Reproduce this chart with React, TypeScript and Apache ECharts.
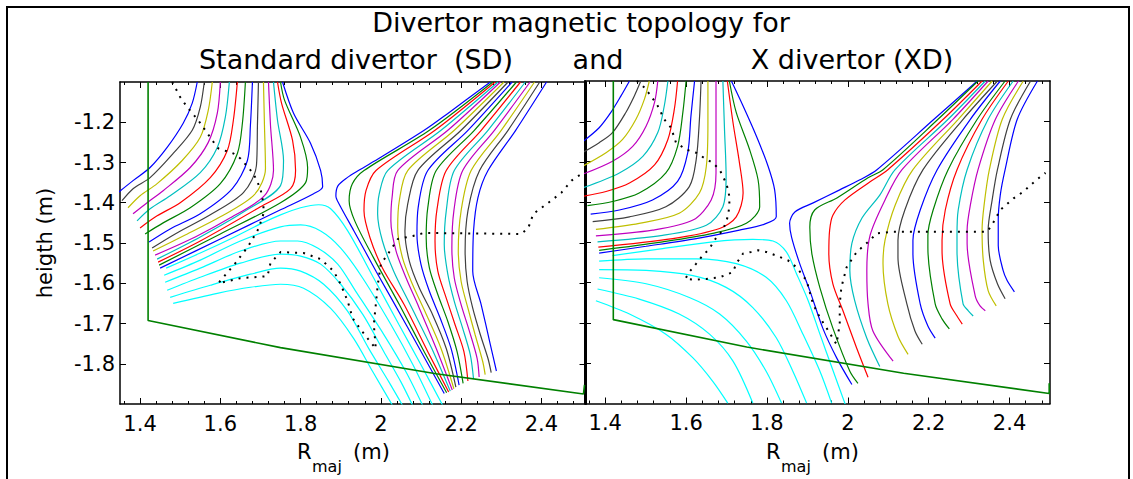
import React, { useEffect, useRef } from "react";
import * as echarts from "echarts";

const FONT = "'DejaVu Sans', sans-serif";
const contourColors = ["#0000ff", "#008000", "#ff0000", "#00bfbf", "#bf00bf", "#bfbf00", "#404040"];
const privateColor = "#00ffff";
const wallColor = "#008000";

const xMajorTicks = [1.4, 1.6, 1.8, 2.0, 2.2, 2.4];
const xMinorTicks = [1.36, 1.44, 1.48, 1.52, 1.56, 1.64, 1.68, 1.72, 1.76, 1.84, 1.88, 1.92, 1.96, 2.04, 2.08, 2.12, 2.16, 2.24, 2.28, 2.32, 2.36, 2.44, 2.48];
const yMajorTicks = [-1.8, -1.7, -1.6, -1.5, -1.4, -1.3, -1.2];

// ---------- Standard divertor (SD) ----------
// inner-leg SOL flux surfaces, index 0 = separatrix
const sdInnerSol = [
  [[1.755, -1.1], [1.7825, -1.1775], [1.825, -1.2525], [1.85, -1.32], [1.855, -1.36], [1.8325, -1.3775], [1.75, -1.4175], [1.6, -1.49], [1.45, -1.5625]],
  [[1.75, -1.1], [1.76, -1.145], [1.8, -1.2375], [1.8175, -1.3125], [1.8125, -1.35], [1.75, -1.4], [1.6, -1.4775], [1.4475, -1.555]],
  [[1.7425, -1.1], [1.7525, -1.1525], [1.78, -1.245], [1.7875, -1.32], [1.775, -1.365], [1.7, -1.41], [1.55, -1.495], [1.445, -1.5475]],
  [[1.7325, -1.1], [1.7425, -1.195], [1.7575, -1.295], [1.75, -1.3575], [1.6625, -1.42], [1.55, -1.485], [1.4425, -1.54]],
  [[1.72, -1.1], [1.725, -1.2075], [1.7325, -1.32], [1.71, -1.3825], [1.625, -1.4375], [1.5375, -1.485], [1.4375, -1.53]],
  [[1.7075, -1.1], [1.71, -1.2075], [1.7125, -1.315], [1.685, -1.38], [1.6, -1.435], [1.5125, -1.48], [1.4325, -1.52]],
  [[1.695, -1.1], [1.6925, -1.2075], [1.69, -1.3075], [1.6575, -1.375], [1.575, -1.43], [1.4875, -1.4775], [1.43, -1.5125]],
  [[1.68, -1.1], [1.675, -1.2075], [1.6675, -1.295], [1.63, -1.365], [1.55, -1.4275], [1.475, -1.465], [1.4225, -1.4975]],
  [[1.6625, -1.1], [1.655, -1.2025], [1.6425, -1.2775], [1.6, -1.3525], [1.525, -1.4125], [1.4575, -1.45], [1.4125, -1.4775]],
  [[1.6425, -1.1], [1.6325, -1.195], [1.6175, -1.27], [1.575, -1.3375], [1.5, -1.4], [1.4425, -1.4325], [1.4, -1.4625]],
  [[1.6225, -1.1], [1.6125, -1.1875], [1.5925, -1.2625], [1.55, -1.325], [1.475, -1.3825], [1.425, -1.415], [1.3925, -1.445]],
  [[1.6, -1.1], [1.5925, -1.1775], [1.57, -1.25], [1.525, -1.3125], [1.4575, -1.37], [1.4175, -1.4], [1.3825, -1.4275]],
  [[1.58, -1.1], [1.57, -1.17], [1.55, -1.2375], [1.505, -1.295], [1.4425, -1.3525], [1.4, -1.3825], [1.37, -1.4125]],
  [[1.56, -1.1], [1.55, -1.1625], [1.53, -1.22], [1.4825, -1.2775], [1.425, -1.3375], [1.3825, -1.365], [1.355, -1.395]],
  [[1.5425, -1.1], [1.53, -1.1525], [1.5075, -1.2025], [1.4675, -1.2625], [1.425, -1.3125], [1.3825, -1.345], [1.345, -1.375]],
];

// outer-leg SOL flux surfaces, index 0 = separatrix
const sdOuterSol = [
  [[2.273, -1.1], [2.167, -1.178], [2.108, -1.22], [2.0, -1.287], [1.944, -1.32], [1.917, -1.337], [1.893, -1.358], [1.888, -1.383], [1.896, -1.403], [1.933, -1.47], [1.988, -1.57], [2.035, -1.653], [2.096, -1.762], [2.158, -1.874]],
  [[2.279, -1.1], [2.121, -1.22], [1.958, -1.32], [1.929, -1.353], [1.921, -1.395], [1.935, -1.445], [1.982, -1.537], [2.046, -1.653], [2.108, -1.77], [2.164, -1.872]],
  [[2.285, -1.1], [2.135, -1.22], [1.988, -1.32], [1.963, -1.37], [1.958, -1.42], [1.973, -1.487], [2.004, -1.562], [2.058, -1.653], [2.117, -1.77], [2.169, -1.87]],
  [[2.292, -1.1], [2.15, -1.22], [2.017, -1.32], [1.996, -1.378], [1.992, -1.428], [2.004, -1.495], [2.032, -1.57], [2.073, -1.653], [2.127, -1.762], [2.173, -1.868]],
  [[2.298, -1.1], [2.167, -1.22], [2.042, -1.32], [2.028, -1.387], [2.025, -1.445], [2.038, -1.52], [2.063, -1.587], [2.092, -1.653], [2.138, -1.762], [2.178, -1.865]],
  [[2.307, -1.1], [2.183, -1.22], [2.067, -1.32], [2.046, -1.395], [2.042, -1.462], [2.054, -1.537], [2.079, -1.603], [2.11, -1.67], [2.15, -1.762], [2.182, -1.862]],
  [[2.317, -1.1], [2.2, -1.22], [2.092, -1.32], [2.067, -1.403], [2.06, -1.47], [2.071, -1.545], [2.096, -1.612], [2.129, -1.678], [2.163, -1.762], [2.187, -1.858]],
  [[2.327, -1.1], [2.217, -1.22], [2.117, -1.32], [2.093, -1.412], [2.09, -1.478], [2.1, -1.553], [2.121, -1.62], [2.148, -1.687], [2.175, -1.762], [2.195, -1.853]],
  [[2.338, -1.1], [2.233, -1.22], [2.138, -1.32], [2.117, -1.412], [2.113, -1.487], [2.121, -1.562], [2.142, -1.628], [2.167, -1.695], [2.19, -1.77], [2.205, -1.849]],
  [[2.348, -1.1], [2.25, -1.22], [2.163, -1.32], [2.14, -1.416], [2.135, -1.495], [2.142, -1.57], [2.163, -1.637], [2.185, -1.703], [2.207, -1.77], [2.217, -1.843]],
  [[2.36, -1.1], [2.267, -1.22], [2.183, -1.32], [2.163, -1.42], [2.158, -1.503], [2.167, -1.578], [2.183, -1.645], [2.204, -1.712], [2.223, -1.778], [2.231, -1.838]],
  [[2.372, -1.1], [2.283, -1.22], [2.204, -1.32], [2.182, -1.42], [2.177, -1.512], [2.183, -1.587], [2.2, -1.653], [2.221, -1.72], [2.24, -1.787], [2.245, -1.833]],
  [[2.383, -1.1], [2.3, -1.22], [2.225, -1.32], [2.2, -1.42], [2.193, -1.52], [2.2, -1.595], [2.217, -1.662], [2.235, -1.728], [2.254, -1.795], [2.26, -1.827]],
  [[2.396, -1.1], [2.317, -1.22], [2.246, -1.32], [2.217, -1.42], [2.21, -1.52], [2.215, -1.595], [2.229, -1.662], [2.248, -1.728], [2.267, -1.787], [2.275, -1.822]],
  [[2.413, -1.1], [2.336, -1.22], [2.267, -1.32], [2.242, -1.387], [2.231, -1.47], [2.229, -1.57], [2.25, -1.653], [2.273, -1.753], [2.288, -1.818]],
];

// private flux region surfaces
const sdPrivate = [
  [[1.465, -1.5625], [1.55, -1.525], [1.625, -1.49], [1.7, -1.4525], [1.75, -1.43], [1.8, -1.4125], [1.845, -1.405], [1.875, -1.415], [1.9175, -1.47], [1.9825, -1.5875], [2.045, -1.7025], [2.1, -1.8025], [2.155, -1.905]],
  [[1.46, -1.58], [1.55, -1.5425], [1.65, -1.495], [1.75, -1.46], [1.8, -1.455], [1.85, -1.47], [1.9, -1.5125], [1.955, -1.5875], [2.025, -1.7025], [2.08, -1.8025], [2.13, -1.905]],
  [[1.4625, -1.5975], [1.55, -1.5625], [1.65, -1.52], [1.75, -1.495], [1.7925, -1.495], [1.8425, -1.5125], [1.8925, -1.5525], [1.9375, -1.62], [2.0075, -1.7275], [2.0625, -1.82], [2.105, -1.905]],
  [[1.4675, -1.6175], [1.55, -1.585], [1.65, -1.55], [1.75, -1.5275], [1.8, -1.5325], [1.85, -1.5525], [1.9, -1.6025], [1.955, -1.6775], [2.0075, -1.77], [2.05, -1.845], [2.08, -1.905]],
  [[1.475, -1.635], [1.575, -1.605], [1.675, -1.5775], [1.75, -1.5625], [1.8, -1.57], [1.8575, -1.6025], [1.9175, -1.67], [1.97, -1.7625], [2.02, -1.845], [2.055, -1.905]],
  [[1.4825, -1.65], [1.5925, -1.625], [1.675, -1.61], [1.75, -1.6025], [1.8075, -1.6125], [1.875, -1.6625], [1.9325, -1.7375], [1.98, -1.82], [2.03, -1.905]],
];

const sdWall = [[1.42, -1.1], [1.42, -1.6925], [1.75, -1.76], [2.1375, -1.825], [2.505, -1.875], [2.5075, -1.8525]];

const sdDotted = [
  [1.48, -1.1], [1.5, -1.1375], [1.5175, -1.1625], [1.545, -1.195], [1.58, -1.245], [1.595, -1.265], [1.6325, -1.2775], [1.65, -1.29],
  [1.6825, -1.3275], [1.7, -1.365], [1.7075, -1.4025], [1.7075, -1.4275], [1.695, -1.465], [1.67, -1.5075], [1.6375, -1.55], [1.595, -1.6],
  [1.65, -1.5875], [1.7175, -1.5825], [1.725, -1.55], [1.75, -1.5225], [1.8075, -1.525], [1.85, -1.54], [1.8825, -1.57], [1.9, -1.6025],
  [1.9175, -1.645], [1.93, -1.6875], [1.95, -1.715], [1.9675, -1.7375], [1.9875, -1.7625], [1.9825, -1.7025], [1.9875, -1.6525], [1.9925, -1.6025],
  [2.0, -1.5525], [2.0175, -1.5275], [2.0425, -1.49], [2.08, -1.4825], [2.1075, -1.475], [2.35, -1.4775], [2.3675, -1.4625], [2.38, -1.4275],
  [2.4175, -1.4], [2.45, -1.375], [2.475, -1.345], [2.5125, -1.32],
];

// ---------- X divertor (XD) ----------
const xdInnerSol = [
  [[1.712, -1.1], [1.741, -1.162], [1.774, -1.237], [1.803, -1.312], [1.819, -1.37], [1.823, -1.437], [1.794, -1.455], [1.732, -1.47], [1.625, -1.491], [1.501, -1.51], [1.385, -1.527]],
  [[1.707, -1.1], [1.724, -1.178], [1.757, -1.27], [1.778, -1.345], [1.782, -1.412], [1.749, -1.453], [1.666, -1.478], [1.542, -1.499], [1.385, -1.52]],
  [[1.702, -1.1], [1.716, -1.203], [1.732, -1.303], [1.741, -1.378], [1.724, -1.437], [1.683, -1.466], [1.567, -1.491], [1.383, -1.512]],
  [[1.691, -1.1], [1.695, -1.22], [1.699, -1.337], [1.691, -1.412], [1.65, -1.458], [1.542, -1.483], [1.381, -1.499]],
  [[1.674, -1.1], [1.674, -1.212], [1.674, -1.328], [1.662, -1.395], [1.617, -1.445], [1.517, -1.47], [1.377, -1.484]],
  [[1.654, -1.1], [1.654, -1.203], [1.65, -1.312], [1.633, -1.378], [1.583, -1.428], [1.484, -1.453], [1.377, -1.468]],
  [[1.637, -1.1], [1.633, -1.195], [1.625, -1.295], [1.608, -1.362], [1.55, -1.412], [1.46, -1.437], [1.369, -1.449]],
  [[1.621, -1.1], [1.612, -1.187], [1.604, -1.278], [1.579, -1.349], [1.517, -1.395], [1.435, -1.42], [1.364, -1.43]],
  [[1.6, -1.1], [1.592, -1.178], [1.579, -1.262], [1.55, -1.328], [1.484, -1.378], [1.418, -1.399], [1.356, -1.409]],
  [[1.579, -1.1], [1.571, -1.17], [1.555, -1.245], [1.522, -1.308], [1.46, -1.353], [1.402, -1.374], [1.345, -1.386]],
  [[1.555, -1.1], [1.546, -1.162], [1.53, -1.228], [1.493, -1.287], [1.435, -1.328], [1.345, -1.365]],
  [[1.53, -1.1], [1.522, -1.153], [1.501, -1.212], [1.468, -1.262], [1.418, -1.299], [1.345, -1.331]],
  [[1.509, -1.1], [1.497, -1.145], [1.476, -1.195], [1.443, -1.245], [1.402, -1.278], [1.345, -1.311]],
  [[1.488, -1.1], [1.472, -1.137], [1.451, -1.178], [1.418, -1.228], [1.385, -1.253], [1.345, -1.277]],
  [[1.46, -1.1], [1.439, -1.137], [1.414, -1.178], [1.385, -1.216], [1.345, -1.25]],
];

const xdOuterSol = [
  [[2.32, -1.1], [2.213, -1.195], [2.072, -1.32], [2.03, -1.345], [1.98, -1.37], [1.913, -1.403], [1.869, -1.425], [1.856, -1.453], [1.861, -1.488], [1.881, -1.553], [1.906, -1.62], [1.938, -1.713], [1.973, -1.788], [2.01, -1.853]],
  [[2.322, -1.1], [2.223, -1.195], [2.087, -1.32], [2.05, -1.34], [1.973, -1.39], [1.918, -1.42], [1.906, -1.463], [1.911, -1.528], [1.931, -1.613], [1.963, -1.713], [2.005, -1.82], [2.025, -1.85]],
  [[2.332, -1.1], [2.236, -1.195], [2.099, -1.32], [2.055, -1.35], [1.993, -1.395], [1.963, -1.433], [1.955, -1.47], [1.953, -1.528], [1.963, -1.603], [1.988, -1.67], [2.022, -1.763], [2.05, -1.835]],
  [[2.34, -1.1], [2.248, -1.195], [2.117, -1.32], [2.079, -1.383], [2.035, -1.44], [2.01, -1.503], [2.005, -1.57], [2.017, -1.645], [2.047, -1.738], [2.079, -1.808]],
  [[2.347, -1.1], [2.26, -1.195], [2.134, -1.32], [2.092, -1.395], [2.055, -1.483], [2.047, -1.57], [2.05, -1.653], [2.062, -1.72], [2.112, -1.795]],
  [[2.357, -1.1], [2.273, -1.195], [2.161, -1.32], [2.117, -1.408], [2.092, -1.495], [2.087, -1.553], [2.099, -1.653], [2.124, -1.733], [2.149, -1.778]],
  [[2.37, -1.1], [2.285, -1.195], [2.186, -1.32], [2.141, -1.42], [2.124, -1.495], [2.124, -1.538], [2.146, -1.653], [2.166, -1.72], [2.184, -1.753]],
  [[2.377, -1.1], [2.303, -1.195], [2.221, -1.32], [2.179, -1.42], [2.161, -1.495], [2.161, -1.528], [2.179, -1.653], [2.198, -1.708], [2.216, -1.738]],
  [[2.389, -1.1], [2.32, -1.195], [2.248, -1.32], [2.211, -1.42], [2.198, -1.483], [2.198, -1.513], [2.216, -1.653], [2.233, -1.69], [2.251, -1.715]],
  [[2.397, -1.1], [2.332, -1.195], [2.27, -1.32], [2.241, -1.42], [2.233, -1.495], [2.233, -1.52], [2.253, -1.653], [2.27, -1.683], [2.283, -1.703]],
  [[2.409, -1.1], [2.347, -1.195], [2.295, -1.32], [2.273, -1.42], [2.27, -1.483], [2.27, -1.52], [2.285, -1.653], [2.298, -1.67], [2.31, -1.683]],
  [[2.422, -1.1], [2.365, -1.195], [2.322, -1.32], [2.303, -1.408], [2.295, -1.47], [2.295, -1.503], [2.315, -1.633], [2.327, -1.658], [2.34, -1.67]],
  [[2.434, -1.1], [2.382, -1.195], [2.35, -1.32], [2.337, -1.408], [2.332, -1.47], [2.335, -1.545], [2.347, -1.62], [2.367, -1.658]],
  [[2.452, -1.1], [2.402, -1.195], [2.37, -1.32], [2.357, -1.395], [2.347, -1.47], [2.352, -1.545], [2.37, -1.603], [2.389, -1.64]],
  [[2.469, -1.1], [2.419, -1.195], [2.389, -1.32], [2.377, -1.383], [2.372, -1.445], [2.372, -1.508], [2.384, -1.57], [2.394, -1.595], [2.412, -1.623]],
];

const xdPrivate = [
  [[1.418, -1.533], [1.542, -1.516], [1.666, -1.499], [1.765, -1.493], [1.815, -1.497], [1.848, -1.524], [1.873, -1.578], [1.902, -1.645], [1.931, -1.728], [1.964, -1.82], [1.994, -1.903]],
  [[1.385, -1.547], [1.501, -1.541], [1.625, -1.541], [1.724, -1.553], [1.798, -1.587], [1.848, -1.645], [1.889, -1.728], [1.931, -1.82], [1.96, -1.899]],
  [[1.385, -1.568], [1.501, -1.57], [1.617, -1.583], [1.699, -1.612], [1.765, -1.662], [1.823, -1.737], [1.864, -1.82], [1.898, -1.899]],
  [[1.385, -1.588], [1.501, -1.603], [1.608, -1.637], [1.683, -1.678], [1.749, -1.745], [1.798, -1.82], [1.836, -1.899]],
  [[1.381, -1.616], [1.484, -1.641], [1.583, -1.678], [1.658, -1.728], [1.716, -1.795], [1.765, -1.899]],
  [[1.377, -1.645], [1.46, -1.678], [1.55, -1.728], [1.617, -1.787], [1.666, -1.845], [1.703, -1.899]],
];

const xdWall = [[1.42, -1.1], [1.42, -1.692], [1.75, -1.76], [2.138, -1.825], [2.498, -1.875], [2.498, -1.85]];

const xdDotted = [
  [1.478, -1.1], [1.497, -1.116], [1.513, -1.137], [1.53, -1.162], [1.546, -1.195], [1.563, -1.216], [1.575, -1.253], [1.6, -1.27],
  [1.625, -1.278], [1.645, -1.291], [1.666, -1.303], [1.683, -1.32], [1.695, -1.345], [1.703, -1.366], [1.707, -1.387], [1.707, -1.412],
  [1.703, -1.437], [1.691, -1.47], [1.67, -1.495], [1.658, -1.516], [1.641, -1.533], [1.625, -1.553], [1.608, -1.574], [1.598, -1.591],
  [1.621, -1.593], [1.65, -1.591], [1.683, -1.587], [1.716, -1.574], [1.724, -1.553], [1.741, -1.528], [1.761, -1.524], [1.778, -1.52],
  [1.798, -1.524], [1.823, -1.533], [1.852, -1.545], [1.873, -1.562], [1.898, -1.595], [1.914, -1.653], [1.931, -1.687], [1.947, -1.712],
  [1.972, -1.753], [1.98, -1.703], [1.98, -1.653], [1.984, -1.612], [1.997, -1.562], [2.022, -1.524], [2.055, -1.495], [2.071, -1.478],
  [2.113, -1.474], [2.344, -1.474], [2.356, -1.458], [2.377, -1.42], [2.41, -1.391], [2.435, -1.374], [2.452, -1.358], [2.472, -1.341], [2.489, -1.328],
];

const titleLine1 = "Divertor magnetic topology for";
const titleSD = "Standard divertor  (SD)";
const titleAnd = "and";
const titleXD = "X divertor (XD)";
const yTitle = "heigth (m)";

function buildAxes(grid: number, xMin: number, xMax: number, yLabels: boolean) {
  const black = { color: "#000" };
  const base = { gridIndex: grid, type: "value", min: xMin, max: xMax, splitLine: { show: false } };
  const majorTick = { show: true, inside: true, length: 6, customValues: xMajorTicks, lineStyle: { color: "#000", width: 1 } };
  const minorTick = { show: true, inside: true, length: 3, customValues: xMinorTicks, lineStyle: { color: "#000", width: 1 } };
  const xAxes = [
    { ...base, position: "bottom", axisLine: { show: true, onZero: false, lineStyle: { ...black, width: 1.5 } }, axisTick: majorTick,
      axisLabel: { show: true, customValues: xMajorTicks, color: "#000", fontFamily: FONT, fontSize: 21, margin: 9 } },
    { ...base, position: "bottom", axisLine: { show: false }, axisTick: minorTick, axisLabel: { show: false } },
    { ...base, position: "top", axisLine: { show: true, onZero: false, lineStyle: { ...black, width: 1.5 } }, axisTick: majorTick, axisLabel: { show: false } },
    { ...base, position: "top", axisLine: { show: false }, axisTick: minorTick, axisLabel: { show: false } },
  ];
  const yBase = { gridIndex: grid, type: "value", min: -1.9, max: -1.1, splitLine: { show: false } };
  const yTick = { show: true, inside: true, length: 6, customValues: yMajorTicks, lineStyle: { color: "#000", width: 1 } };
  const yAxes = [
    { ...yBase, position: "left", axisLine: { show: true, onZero: false, lineStyle: { ...black, width: yLabels ? 1.5 : 2 } }, axisTick: yTick,
      axisLabel: yLabels ? { show: true, customValues: yMajorTicks, color: "#000", fontFamily: FONT, fontSize: 21, margin: 5 } : { show: false } },
    { ...yBase, position: "right", axisLine: { show: true, onZero: false, lineStyle: { ...black, width: yLabels ? 2 : 1.5 } }, axisTick: yTick, axisLabel: { show: false } },
  ];
  return { xAxes, yAxes };
}

function familySeries(lines: number[][][], xi: number, yi: number, colorOf: (k: number) => string) {
  return lines.map((pts, k) => ({
    type: "line",
    xAxisIndex: xi,
    yAxisIndex: yi,
    data: pts,
    showSymbol: false,
    symbol: "none",
    smooth: 0.3,
    silent: true,
    z: 2,
    lineStyle: { color: colorOf(k), width: 1.2 },
  }));
}

function panelSeries(inner: number[][][], outer: number[][][], priv: number[][][], wall: number[][], dotted: number[][], xi: number, yi: number) {
  const cyc = (k: number) => contourColors[k % contourColors.length];
  return [
    ...familySeries(priv, xi, yi, () => privateColor),
    ...familySeries(inner, xi, yi, cyc),
    ...familySeries(outer, xi, yi, cyc),
    { type: "line", xAxisIndex: xi, yAxisIndex: yi, data: wall, showSymbol: false, symbol: "none", silent: true, z: 3,
      lineStyle: { color: wallColor, width: 1.6 } },
    { type: "line", xAxisIndex: xi, yAxisIndex: yi, data: dotted, showSymbol: false, symbol: "none", silent: true, z: 4,
      lineStyle: { color: "#000", width: 2, type: [2, 6] } },
  ];
}

function txt(text: string, x: number, y: number, size: number, align = "center", extra: any = {}) {
  return {
    type: "text", x, y, silent: true, ...extra,
    style: { text, fill: "#000", fontFamily: FONT, fontSize: size, align, verticalAlign: "middle", textAlign: align, textVerticalAlign: "middle" },
  };
}

export default function App() {
  const ref = useRef<HTMLDivElement>(null);
  useEffect(() => {
    if (!ref.current) return;
    const chart = echarts.init(ref.current, undefined, { renderer: "svg" });
    const left = buildAxes(0, 1.35, 2.51, true);
    const right = buildAxes(1, 1.35, 2.5, false);
    const option: any = {
      animation: false,
      backgroundColor: "#fff",
      grid: [
        { left: 120, top: 82, width: 465.5, height: 322 },
        { left: 585, top: 81, width: 465, height: 322.5 },
      ],
      xAxis: [...left.xAxes, ...right.xAxes],
      yAxis: [...left.yAxes, ...right.yAxes],
      series: [
        ...panelSeries(sdInnerSol, sdOuterSol, sdPrivate, sdWall, sdDotted, 0, 0),
        ...panelSeries(xdInnerSol, xdOuterSol, xdPrivate, xdWall, xdDotted, 4, 2),
      ],
      graphic: [
        { type: "polyline", silent: true, shape: { points: [[7, 480], [7, 7], [1129, 7], [1129, 480]] }, style: { stroke: "#000", lineWidth: 2, fill: "none" } },
        txt(titleLine1, 581, 22, 27),
        txt(titleSD, 356, 59, 27),
        txt(titleAnd, 598, 59, 27),
        txt(titleXD, 852, 59, 27),
        txt(yTitle, 45, 243, 21, "center", { rotation: Math.PI / 2 }),
        txt("R", 297, 452, 21, "left"),
        txt("maj", 312, 466, 16, "left"),
        txt("(m)", 353, 452, 21, "left"),
        txt("R", 766, 452, 21, "left"),
        txt("maj", 781, 466, 16, "left"),
        txt("(m)", 822, 452, 21, "left"),
      ],
    };
    chart.setOption(option);
    return () => chart.dispose();
  }, []);
  return <div ref={ref} style={{ position: "absolute", left: 0, top: 0, width: 1133, height: 479, background: "#fff" }} />;
}
